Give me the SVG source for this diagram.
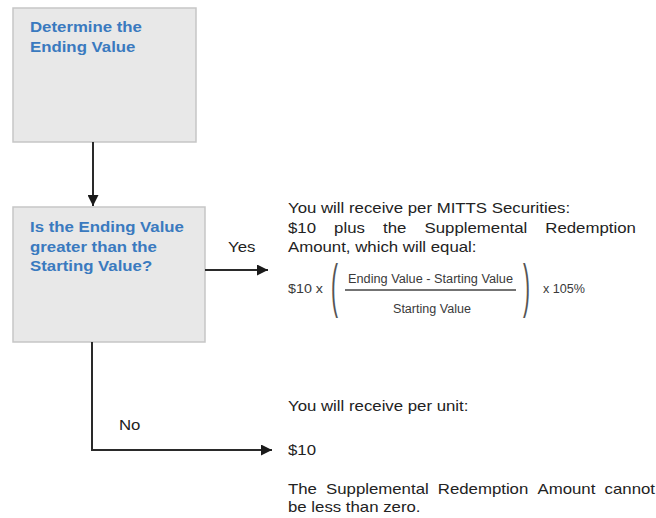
<svg xmlns="http://www.w3.org/2000/svg" width="656" height="518" viewBox="0 0 656 518">
<style>
.box{fill:#e8e8e8;stroke:#c6c6c6;stroke-width:1.5}
.bt{font-family:"Liberation Sans",Arial,sans-serif;font-weight:bold;font-size:14px;fill:#3a7abf}
.t{font-family:"Liberation Sans",Arial,sans-serif;font-size:14px;fill:#222}
.f{font-family:"Liberation Sans",Arial,sans-serif;font-size:12.5px;fill:#3a3a3a}
.p{font-family:"Liberation Sans",Arial,sans-serif;font-size:60px;fill:#555}
.c{fill:none;stroke:#2a2a2a;stroke-width:2}
</style>
<defs>
<marker id="ah" viewBox="0 0 10 10" refX="10" refY="5" markerWidth="6" markerHeight="5.5" markerUnits="strokeWidth" orient="auto">
<path d="M0,0 L10,5 L0,10 z" fill="#1a1a1a"/>
</marker>
</defs>
<rect width="656" height="518" fill="#ffffff"/>
<g id="node-determine">
<rect class="box" x="13" y="8" width="183" height="134"/>
<text class="bt" transform="translate(30,32) scale(1.2 1)">Determine the</text>
<text class="bt" transform="translate(30,52) scale(1.2 1)">Ending Value</text>
</g>
<g id="node-decision">
<rect class="box" x="13" y="207" width="192" height="135"/>
<text class="bt" transform="translate(30,232) scale(1.2 1)">Is the Ending Value</text>
<text class="bt" transform="translate(30,252) scale(1.2 1)">greater than the</text>
<text class="bt" transform="translate(30,271) scale(1.2 1)">Starting Value?</text>
</g>
<g id="node-yes-result">
<text class="t" transform="translate(288,213) scale(1.2 1)">You will receive per MITTS Securities:</text>
<text class="t" transform="translate(288,233) scale(1.2 1)"><tspan x="0">$10</tspan><tspan x="38.4">plus</tspan><tspan x="79.2">the</tspan><tspan x="113.8">Supplemental</tspan><tspan x="214.4">Redemption</tspan></text>
<text class="t" transform="translate(288,252) scale(1.2 1)">Amount, which will equal:</text>
<text class="f" x="288" y="293" textLength="35" lengthAdjust="spacingAndGlyphs">$10 x</text>
<text class="p" transform="translate(331,305.5) scale(0.35 1)">(</text>
<text class="f" x="348" y="283" textLength="165" lengthAdjust="spacingAndGlyphs">Ending Value - Starting Value</text>
<line x1="345" y1="290" x2="516" y2="290" stroke="#444" stroke-width="1.3"/>
<text class="f" x="393" y="313" textLength="78" lengthAdjust="spacingAndGlyphs">Starting Value</text>
<text class="p" transform="translate(523,305.5) scale(0.35 1)">)</text>
<text class="f" x="543" y="293" textLength="42" lengthAdjust="spacingAndGlyphs">x 105%</text>
</g>
<g id="node-no-result">
<text class="t" transform="translate(288,411) scale(1.2 1)">You will receive per unit:</text>
<text class="t" transform="translate(288,455) scale(1.2 1)">$10</text>
<text class="t" transform="translate(288,494) scale(1.2 1)"><tspan x="0">The</tspan><tspan x="31.7">Supplemental</tspan><tspan x="124.8">Redemption</tspan><tspan x="207.9">Amount</tspan><tspan x="263.8">cannot</tspan></text>
<text class="t" transform="translate(288,512) scale(1.2 1)">be less than zero.</text>
</g>
<g id="connectors">
<line class="c" x1="93" y1="142" x2="93" y2="206" marker-end="url(#ah)"/>
<line class="c" x1="205" y1="270" x2="268" y2="270" marker-end="url(#ah)"/>
<polyline class="c" points="92,342 92,450 272,450" marker-end="url(#ah)"/>
<text class="t" transform="translate(228,252) scale(1.2 1)">Yes</text>
<text class="t" transform="translate(119,430) scale(1.2 1)">No</text>
</g>
</svg>
